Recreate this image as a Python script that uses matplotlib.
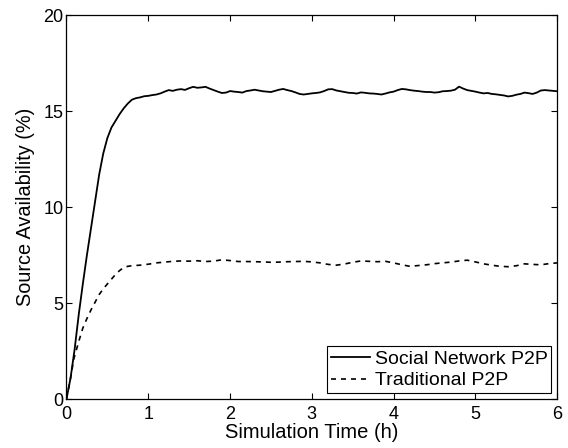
import numpy as np
import matplotlib

matplotlib.use("Agg")
import matplotlib.pyplot as plt

plt.rcParams["font.family"] = ["Liberation Sans", "DejaVu Sans"]

# Social Network P2P: ramp-up phase, then 0.05 h samples from 1 h to 6 h
social_t_early = [0.0, 0.05, 0.10, 0.15, 0.20, 0.25, 0.30, 0.35, 0.40, 0.45,
                  0.50, 0.55, 0.60, 0.65, 0.70, 0.75, 0.80, 0.85, 0.90, 0.95]
social_v_early = [0.0, 1.1, 2.6, 4.4, 6.0, 7.5, 8.9, 10.3, 11.7, 12.8,
                  13.6, 14.15, 14.5, 14.85, 15.15, 15.4, 15.6, 15.68, 15.72, 15.78]
social_v_late = [
    15.80, 15.84, 15.87, 15.93, 16.02, 16.10, 16.06, 16.12, 16.15, 16.11,
    16.20, 16.27, 16.22, 16.24, 16.27, 16.18, 16.10, 16.02, 15.95, 15.97,
    16.05, 16.02, 16.00, 15.97, 16.05, 16.08, 16.12, 16.08, 16.04, 16.02,
    16.00, 16.06, 16.12, 16.16, 16.10, 16.05, 15.98, 15.90, 15.87, 15.90,
    15.93, 15.95, 15.98, 16.05, 16.14, 16.15, 16.08, 16.04, 16.00, 15.96,
    15.95, 15.92, 15.98, 15.96, 15.93, 15.92, 15.90, 15.87, 15.92, 15.98,
    16.02, 16.10, 16.16, 16.14, 16.10, 16.07, 16.05, 16.02, 16.00, 16.00,
    15.97, 15.99, 16.04, 16.05, 16.07, 16.12, 16.28, 16.18, 16.10, 16.06,
    16.02, 15.97, 15.93, 15.95, 15.90, 15.88, 15.85, 15.82, 15.77, 15.80,
    15.86, 15.90, 15.97, 15.94, 15.90, 15.97, 16.08, 16.10, 16.08, 16.06,
    16.04,
]

# Traditional P2P: ramp-up phase, then 0.1 h samples from 1.1 h to 6 h
trad_t_early = [0.0, 0.05, 0.09, 0.15, 0.20, 0.25, 0.30, 0.35, 0.40, 0.45,
                0.50, 0.55, 0.60, 0.65, 0.70, 0.75, 0.80, 0.90, 1.00]
trad_v_early = [0.0, 1.1, 2.1, 3.0, 3.7, 4.2, 4.65, 5.05, 5.45, 5.75,
                6.0, 6.25, 6.5, 6.7, 6.86, 6.92, 6.95, 6.98, 7.03]
trad_v_late = [
    7.10, 7.14, 7.18, 7.20, 7.19, 7.21, 7.17, 7.19, 7.26, 7.22,
    7.17, 7.17, 7.16, 7.15, 7.13, 7.14, 7.16, 7.17, 7.18, 7.15,
    7.10, 7.02, 6.98, 7.04, 7.13, 7.20, 7.18, 7.16, 7.18, 7.10,
    7.00, 6.92, 6.96, 7.00, 7.06, 7.10, 7.14, 7.20, 7.24, 7.15,
    7.05, 6.98, 6.92, 6.90, 6.95, 7.05, 7.02, 7.00, 7.06, 7.10,
]

social_t = social_t_early + [1.0 + 0.05 * i for i in range(len(social_v_late))]
social_v = social_v_early + social_v_late
trad_t = trad_t_early + [1.1 + 0.1 * i for i in range(len(trad_v_late))]
trad_v = trad_v_early + trad_v_late

x_ticks = [0, 1, 2, 3, 4, 5, 6]
y_ticks = [0, 5, 10, 15, 20]

fig = plt.figure(figsize=(5.68, 4.48), dpi=100)
ax = fig.add_axes([0.117, 0.109, 0.864, 0.857])

ax.plot(social_t, social_v, color="black", lw=1.3, label="Social Network P2P")
ax.plot(trad_t, trad_v, color="black", lw=1.2, linestyle=(0, (3, 3)),
        label="Traditional P2P")

ax.set_xlim(0, 6)
ax.set_ylim(0, 20)
ax.set_xticks(x_ticks)
ax.set_yticks(y_ticks)
ax.tick_params(direction="in", top=True, right=True, length=4, width=0.8,
               labelsize=13, pad=2)
ax.tick_params(axis="x", pad=5)
for s in ax.spines.values():
    s.set_linewidth(0.9)

ax.set_xlabel("Simulation Time (h)", fontsize=14.5, labelpad=0)
ax.set_ylabel("Source Availability (%)", fontsize=14.3, labelpad=6)

leg = ax.legend(loc="lower right", fontsize=14, fancybox=False,
                edgecolor="black", framealpha=1, borderaxespad=0.3,
                handlelength=2.0, handletextpad=0.25, labelspacing=0.22,
                borderpad=0.2)
leg.get_frame().set_linewidth(0.8)

fig.savefig("out.png", dpi=100)
